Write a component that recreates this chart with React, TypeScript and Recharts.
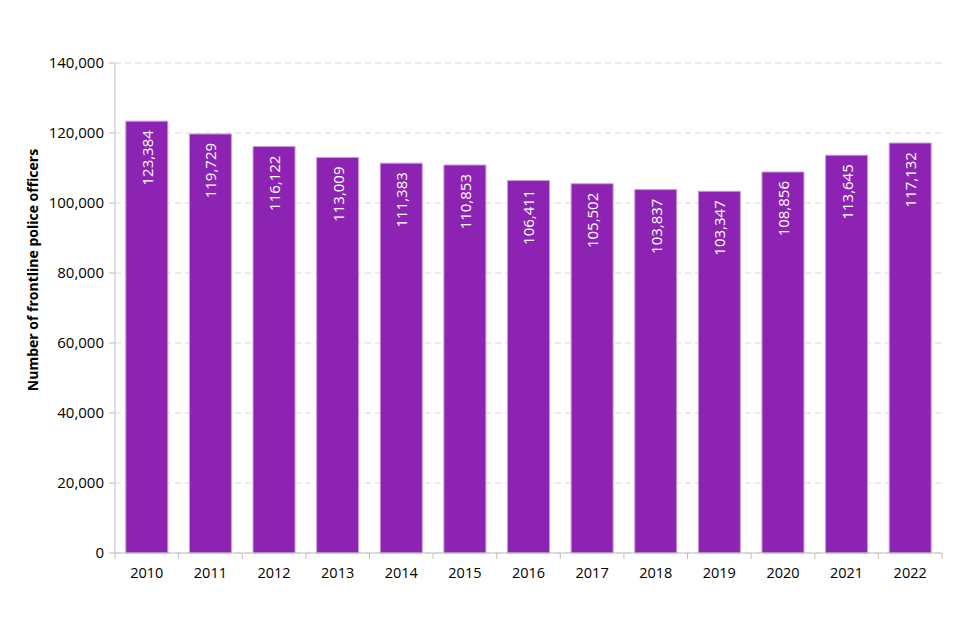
import React from "react";
import {
  BarChart,
  Bar,
  XAxis,
  YAxis,
  CartesianGrid,
  LabelList,
} from "recharts";

const years = ["2010", "2011", "2012", "2013", "2014", "2015", "2016", "2017", "2018", "2019", "2020", "2021", "2022"];
const officers = [123384, 119729, 116122, 113009, 111383, 110853, 106411, 105502, 103837, 103347, 108856, 113645, 117132];
const yTicks = [0, 20000, 40000, 60000, 80000, 100000, 120000, 140000];

const data = years.map((year, i) => ({ year, officers: officers[i] }));

const FONT = "'Open Sans', 'Noto Sans', sans-serif";
const BAR_COLOR = "#8C23B3";
const AXIS_COLOR = "#bfbfbf";

const W = 960;
const H = 640;
const MARGIN = { top: 63, right: 18, bottom: 57, left: 0 };
const Y_AXIS_W = 115;
const BAND = (W - Y_AXIS_W - MARGIN.right) / years.length;

const fmt = (v: number) => v.toLocaleString("en-GB");

const XTick = (props: any) => {
  const { x, y, payload, index } = props;
  const half = BAND / 2;
  return (
    <g>
      <line x1={x - half} x2={x - half} y1={y - 8} y2={y - 2} stroke={AXIS_COLOR} />
      {index === years.length - 1 && (
        <line x1={x + half} x2={x + half} y1={y - 8} y2={y - 2} stroke={AXIS_COLOR} />
      )}
      <text x={x} y={y + 17} textAnchor="middle" fill="#000" fontSize={14.5} fontFamily={FONT}>
        {payload.value}
      </text>
    </g>
  );
};

const BarValue = (props: any) => {
  const { x, y, width, value } = props;
  const cx = x + width / 2;
  const ty = y + 9;
  return (
    <text
      x={cx}
      y={ty}
      transform={`rotate(-90, ${cx}, ${ty})`}
      textAnchor="end"
      dominantBaseline="central"
      fill="#fff"
      fontSize={15}
      fontFamily={FONT}
    >
      {fmt(value)}
    </text>
  );
};

const YTitle = () => (
  <text
    x={32}
    y={270}
    transform="rotate(-90, 32, 270)"
    textAnchor="middle"
    dominantBaseline="central"
    fontSize={14}
    fontWeight="bold"
    fontFamily={FONT}
    fill="#000"
  >
    Number of frontline police officers
  </text>
);

export default function App() {
  return (
    <div style={{ position: "absolute", left: 0, top: 0, background: "#fff" }}>
      <BarChart width={W} height={H} data={data} margin={MARGIN} barCategoryGap="17%">
        <CartesianGrid vertical={false} stroke="#d9d9d9" strokeDasharray="6 4" />
        <XAxis
          dataKey="year"
          axisLine={{ stroke: AXIS_COLOR }}
          tickLine={false}
          tick={<XTick />}
          interval={0}
          height={30}
        />
        <YAxis
          width={Y_AXIS_W}
          domain={[0, 140000]}
          ticks={yTicks}
          tickFormatter={fmt}
          axisLine={{ stroke: AXIS_COLOR }}
          tickLine={{ stroke: AXIS_COLOR }}
          tickSize={6}
          tickMargin={5}
          tick={{ fill: "#000", fontSize: 15, fontFamily: FONT }}
          label={<YTitle />}
        />
        <Bar dataKey="officers" fill={BAR_COLOR} stroke="#c89ddb" strokeWidth={1} isAnimationActive={false}>
          <LabelList dataKey="officers" content={<BarValue />} />
        </Bar>
      </BarChart>
    </div>
  );
}
